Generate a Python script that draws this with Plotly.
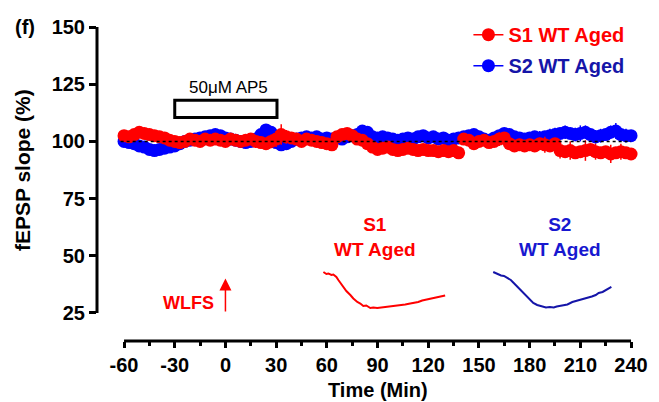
import plotly.graph_objects as go

# ---------------- data ----------------
time_min = [-60, -57, -54, -51, -48, -45, -42, -39, -36, -33, -30, -27, -24, -21, -18, -15, -12, -9, -6, -3,
            0, 3, 6, 9, 12, 15, 18, 21, 24, 27, 30, 33, 36, 39, 42, 45, 48, 51, 54, 57,
            60, 63, 66, 69, 72, 75, 78, 81, 84, 87, 90, 93, 96, 99, 102, 105, 108, 111, 114, 117,
            120, 123, 126, 129, 132, 135, 138, 141, 144, 147, 150, 153, 156, 159, 162, 165, 168, 171, 174, 177,
            180, 183, 186, 189, 192, 195, 198, 201, 204, 207, 210, 213, 216, 219, 222, 225, 228, 231, 234, 237, 240]

s1_slope = [102.5, 102, 103, 104, 103.5, 103, 102.5, 102, 101.5, 100.5, 100, 99.5, 100, 101, 100.5, 100, 101, 100.5, 101, 100.5,
            100, 101, 100.5, 100, 100.5, 101, 100, 99.5, 99, 100, 101, 103, 102, 101.5, 101, 100, 101, 100.5, 100, 99.5,
            99, 98.5, 102, 103, 103.5, 102.5, 101, 100.5, 99, 97.5, 96.5, 97, 97.5, 96.5, 96, 96.5, 97, 96.5, 96, 96.5,
            96, 96, 95.5, 96, 95.5, 96, 95, 101, 100.5, 99, 100, 100.5, 99.5, 100, 101, 101.5, 99, 98, 98.5, 98,
            98.5, 98, 99, 98.5, 98, 99, 96, 95.5, 96, 95, 95.5, 96, 96.5, 95.5, 95, 95.5, 94.5, 95, 95.5, 95, 94.5]
s1_sem = [1.5, 1.5, 1.5, 1.5, 1.5, 1.5, 1.5, 1.5, 1.5, 1.5, 1.5, 1.5, 1.5, 1.5, 1.5, 1.5, 1.5, 1.5, 1.5, 1.5,
          1.5, 1.5, 1.5, 1.5, 1.5, 1.5, 1.5, 1.5, 2, 3, 3.5, 4.5, 3, 2, 1.5, 1.5, 1.5, 1.5, 1.5, 1.5,
          1.5, 1.5, 1.5, 1.5, 2, 1.5, 1.5, 1.5, 1.5, 1.5, 1.5, 1.5, 1.5, 1.5, 1.5, 1.5, 1.5, 1.5, 1.5, 1.5,
          1.5, 1.5, 1.5, 1.5, 1.5, 1.5, 1.5, 2, 2.5, 2, 2, 2.5, 2, 2, 3, 2.5, 2, 2, 2.5, 2,
          2, 2.5, 2, 3.5, 2, 2.5, 3.5, 2, 4, 2.5, 2, 4.5, 2, 3.5, 2, 2.5, 4, 2, 3.5, 2.5, 2]

s2_slope = [100, 99.5, 99, 98, 97.5, 96.5, 96, 96.5, 97, 97.5, 98, 99, 100, 100.5, 101, 101.5, 102, 102.5, 103, 102.5,
            101.5, 101, 100.5, 100, 99.5, 100, 101, 103, 105, 104, 99.5, 98.5, 99, 100, 101, 101.5, 102, 101.5, 102, 101,
            101.5, 101, 101.5, 101, 102, 102.5, 103, 104.5, 104, 102, 101.5, 102, 101.5, 101, 100.5, 101, 101.5, 101, 102, 102.5,
            101.5, 102, 101, 101.5, 100.5, 101, 101.5, 102, 102.5, 103, 102, 101, 100.5, 101.5, 102.5, 103.5, 103, 102, 101.5, 101,
            101.5, 102, 101.5, 102, 102.5, 103, 103.5, 104, 103.5, 103, 103.5, 104, 103, 102, 102.5, 103, 104, 104.5, 103, 102.5, 102.5]
s2_sem = [1.5, 1.5, 1.5, 1.5, 1.5, 1.5, 1.5, 1.5, 1.5, 1.5, 1.5, 1.5, 1.5, 1.5, 1.5, 1.5, 1.5, 1.5, 1.5, 1.5,
          1.5, 1.5, 1.5, 1.5, 1.5, 1.5, 1.5, 2, 2, 2, 1.5, 1.5, 1.5, 1.5, 1.5, 1.5, 1.5, 1.5, 1.5, 1.5,
          1.5, 1.5, 1.5, 1.5, 1.5, 1.5, 1.5, 2, 2, 1.5, 1.5, 1.5, 1.5, 1.5, 1.5, 1.5, 1.5, 1.5, 1.5, 1.5,
          1.5, 1.5, 1.5, 1.5, 1.5, 1.5, 1.5, 2, 2, 2, 2, 2, 2, 2, 2.5, 2, 2, 2, 2, 2,
          2.5, 2.5, 3, 2.5, 3, 3, 2.5, 3, 2.5, 3, 3.5, 3, 2.5, 3, 3, 2.5, 3, 3.5, 3, 3, 2.5]

# inset fEPSP waveforms (ms, mV)
s1_wave_ms = [0, 0.6, 1.0, 1.6, 2.0, 2.6, 3.0, 3.6, 4.0, 4.6, 5.4, 6.0, 6.8, 7.4, 8.0, 8.6, 9.4, 10.0, 10.8, 11.6,
              12.4, 13.2, 14.0, 14.8, 15.6, 16.4, 17.4, 18.2, 19.0, 19.8, 20.8, 21.6, 22.4, 23.4, 24.4]
s1_wave_mv = [0, -0.04, -0.03, -0.06, -0.05, -0.1, -0.16, -0.24, -0.3, -0.38, -0.46, -0.53, -0.6, -0.63, -0.68, -0.67, -0.72, -0.71, -0.72, -0.71,
              -0.71, -0.7, -0.69, -0.68, -0.67, -0.65, -0.63, -0.62, -0.6, -0.57, -0.55, -0.53, -0.51, -0.49, -0.47]
s2_wave_ms = [0, 0.6, 1.0, 1.6, 2.2, 2.8, 3.6, 4.2, 5.0, 5.6, 6.2, 7.0, 7.6, 8.2, 9.0, 9.6, 10.2, 10.8, 11.6, 12.4,
              13.0, 13.6, 14.4, 15.2, 16.2, 17.0, 17.8, 18.6, 19.4, 20.2, 21.0, 21.6, 22.4, 23.2, 24.2]
s2_wave_mv = [0, -0.03, -0.05, -0.07, -0.08, -0.11, -0.16, -0.22, -0.3, -0.37, -0.44, -0.52, -0.58, -0.62, -0.66, -0.68, -0.7, -0.71, -0.7, -0.71,
              -0.69, -0.68, -0.66, -0.65, -0.6, -0.58, -0.56, -0.54, -0.52, -0.49, -0.46, -0.42, -0.4, -0.36, -0.3]

x_tickvals = [-60, -30, 0, 30, 60, 90, 120, 150, 180, 210, 240]
x_ticktext = ["-60", "-30", "0", "30", "60", "90", "120", "150", "180", "210", "240"]
y_tickvals = [25, 50, 75, 100, 125, 150]
y_ticktext = ["25", "50", "75", "100", "125", "150"]

RED = "#FF0000"
BLUE = "#0000FF"
NAVY = "#1515A8"
FONT = "Liberation Sans"

fig = go.Figure()

# blue underneath, red on top
fig.add_trace(go.Scatter(
    x=time_min, y=s2_slope, mode="markers", showlegend=False,
    marker=dict(color=BLUE, size=13, line=dict(width=0)),
    error_y=dict(type="data", array=s2_sem, color=BLUE, thickness=1.5, width=0)))
fig.add_trace(go.Scatter(
    x=time_min, y=s1_slope, mode="markers", showlegend=False,
    marker=dict(color=RED, size=13, line=dict(width=0)),
    error_y=dict(type="data", array=s1_sem, color=RED, thickness=1.5, width=0)))

# legend entries
fig.add_trace(go.Scatter(
    x=[None], y=[None], mode="lines+markers", legendgroup="a",
    name='<span style="color:#FF0000">S1 WT Aged</span>',
    marker=dict(color=RED, size=13), line=dict(color=RED, width=1.5)))
fig.add_trace(go.Scatter(
    x=[None], y=[None], mode="lines+markers", legendgroup="b",
    name='<span style="color:%s">S2 WT Aged</span>' % NAVY,
    marker=dict(color=BLUE, size=13), line=dict(color=BLUE, width=1.5)))

# inset waveforms
fig.add_trace(go.Scatter(x=s1_wave_ms, y=s1_wave_mv, xaxis="x2", yaxis="y2", mode="lines",
                         line=dict(color=RED, width=2), showlegend=False))
fig.add_trace(go.Scatter(x=s2_wave_ms, y=s2_wave_mv, xaxis="x3", yaxis="y3", mode="lines",
                         line=dict(color=NAVY, width=2), showlegend=False))

hidden = dict(visible=False, showgrid=False, zeroline=False, fixedrange=True)

fig.update_layout(
    width=659, height=402,
    margin=dict(l=97, r=19, t=20, b=61),
    paper_bgcolor="white", plot_bgcolor="white",
    font=dict(family=FONT, color="black"),
    xaxis=dict(range=[-76, 245.3], showgrid=False, zeroline=False, showline=False,
               tickvals=x_tickvals, ticktext=x_ticktext, ticks="outside", ticklen=6, tickwidth=3,
               tickcolor="black", tickfont=dict(size=20, family=FONT, weight="bold"),
               minor=dict(tickvals=[-45, -15, 15, 45, 75, 105, 135, 165, 195, 225],
                          ticks="outside", ticklen=4, tickwidth=3, tickcolor="black")),
    yaxis=dict(range=[12.7, 153.1], showgrid=False, zeroline=False, showline=False,
               tickvals=y_tickvals, ticktext=y_ticktext, ticks="outside", ticklen=7, tickwidth=3,
               tickcolor="black", tickfont=dict(size=20, family=FONT, weight="bold")),
    xaxis2=dict(domain=[0.416, 0.643], range=[-0.1, 24.6], anchor="y2", **hidden),
    yaxis2=dict(domain=[0.09, 0.23], range=[-0.802, 0.096], anchor="x2", **hidden),
    xaxis3=dict(domain=[0.727, 0.95], range=[-0.3, 24.5], anchor="y3", **hidden),
    yaxis3=dict(domain=[0.09, 0.23], range=[-0.802, 0.096], anchor="x3", **hidden),
    showlegend=True,
    legend=dict(x=0.684, y=1.015, xanchor="left", yanchor="top", bgcolor="rgba(0,0,0,0)",
                font=dict(size=20, family=FONT, weight="bold"), tracegroupgap=2,
                itemwidth=30),
)

# axis lines (Prism-style, detached)
fig.add_shape(type="line", xref="paper", yref="y", x0=0, x1=0, y0=25, y1=150,
              line=dict(color="black", width=3))
fig.add_shape(type="line", xref="x", yref="paper", x0=-60, x1=240, y0=0, y1=0,
              line=dict(color="black", width=3))
# baseline 100 %
fig.add_shape(type="line", xref="x", yref="y", x0=-62, x1=240, y0=100, y1=100,
              line=dict(color="black", width=1.5, dash="3px,3px"), layer="above")
# AP5 application bar
fig.add_shape(type="rect", xref="x", yref="y", x0=-30, x1=30.5, y0=110.5, y1=118,
              line=dict(color="black", width=3))

ann = []
ann.append(dict(text="(f)", xref="paper", yref="paper", x=-0.133, y=0.978, showarrow=False,
                font=dict(size=20, weight="bold"), xanchor="center", yanchor="middle"))
ann.append(dict(text="fEPSP slope (%)", xref="paper", yref="paper", x=-0.136, y=0.533, showarrow=False,
                textangle=-90, font=dict(size=21, weight="bold"), xanchor="center", yanchor="middle"))
ann.append(dict(text="Time (Min)", xref="paper", yref="paper", x=0.517, y=-0.152, showarrow=False,
                font=dict(size=20, weight="bold"), xanchor="center", yanchor="middle"))
ann.append(dict(text="50μM AP5", xref="x", yref="y", x=2, y=123.7, showarrow=False,
                font=dict(size=17), xanchor="center", yanchor="middle"))
ann.append(dict(text="WLFS", xref="x", yref="y", x=-5.6, y=29.4, showarrow=False,
                font=dict(size=18, weight="bold", color=RED), xanchor="right", yanchor="middle"))
ann.append(dict(text="", xref="x", yref="y", x=0, y=40, ax=0, ay=25, axref="x", ayref="y",
                showarrow=True, arrowhead=2, arrowsize=1.6, arrowwidth=1.5, arrowcolor=RED))
ann.append(dict(text="S1<br>WT Aged", xref="x", yref="y", x=88.5, y=58.1, showarrow=False,
                font=dict(size=19, weight="bold", color=RED), xanchor="center", yanchor="middle"))
ann.append(dict(text="S2<br>WT Aged", xref="x", yref="y", x=198, y=58.1, showarrow=False,
                font=dict(size=19, weight="bold", color="#1818D0"), xanchor="center", yanchor="middle"))
fig.update_layout(annotations=ann)

fig.write_html("out.html")
